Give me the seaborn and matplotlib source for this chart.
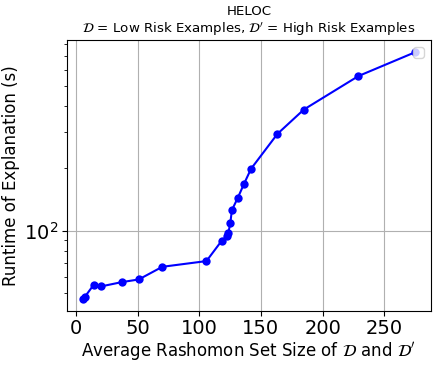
import numpy as np
import pandas as pd
import matplotlib
matplotlib.use('Agg')
import matplotlib.pyplot as plt
import seaborn as sns

# average Rashomon set size vs runtime
set_size = [5.9, 7.1, 14.4, 20.5, 37.1, 50.9, 70.0, 105.8, 118.3, 122.8, 123.6,
            125.2, 126.4, 131.3, 136.1, 142.0, 163.4, 184.8, 229.1, 274.6]
runtime = [47.1, 48.0, 55.0, 54.0, 56.6, 58.3, 67.1, 71.5, 89.8, 94.6, 98.1,
           109.3, 125.7, 144.6, 167.7, 199.3, 293.6, 384.6, 558.0, 725.0]

title = "HELOC\n$\\mathcal{D}$ = Low Risk Examples, $\\mathcal{D}'$ = High Risk Examples"
xlabel = "Average Rashomon Set Size of $\\mathcal{D}$ and $\\mathcal{D}'$"
ylabel = "Runtime of Explanation (s)"

sns.set_style("ticks", {
    "axes.grid": True,
    "grid.color": "#b0b0b0",
    "axes.edgecolor": "black",
    "axes.labelcolor": "black",
    "text.color": "black",
    "xtick.color": "black",
    "ytick.color": "black",
})
plt.rcParams.update({
    "grid.linewidth": 0.8,
    "axes.linewidth": 0.8,
    "xtick.major.size": 3.5,
    "ytick.major.size": 3.5,
    "ytick.minor.size": 2,
    "xtick.major.width": 0.8,
    "ytick.major.width": 0.8,
    "ytick.minor.width": 0.6,
})

df = pd.DataFrame({"size": set_size, "runtime": runtime})

fig = plt.figure(figsize=(4.39, 3.65), dpi=100)
ax = fig.add_axes([0.152, 0.148, 0.830, 0.742])

sns.lineplot(data=df, x="size", y="runtime", ax=ax, sort=False, estimator=None,
             color="#0000ff", marker="o", markersize=6, markeredgewidth=0,
             linewidth=1.5)
ax.set_yscale("log")
ax.margins(x=0.05, y=0.05)

ax.set_xticks([0, 50, 100, 150, 200, 250])
ax.tick_params(axis="both", which="major", labelsize=14, pad=2.5)
ax.set_title(title, fontsize=9.6, pad=5)
ax.set_xlabel(xlabel, fontsize=12, labelpad=1)
ax.set_ylabel(ylabel, fontsize=12, labelpad=3)
ax.grid(True, which="major")
ax.grid(False, which="minor")
ax.legend(handles=[], loc="upper right", frameon=True)

fig.savefig("out.png", dpi=100)
